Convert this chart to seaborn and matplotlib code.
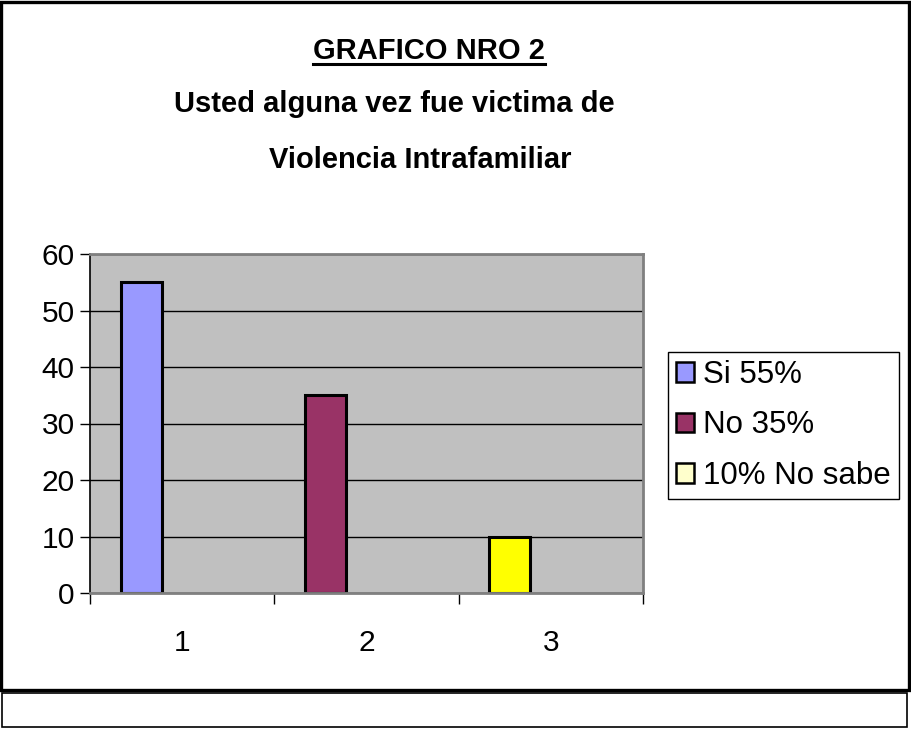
import pandas as pd
import matplotlib.pyplot as plt
import seaborn as sns
from matplotlib.patches import Patch, Rectangle
from matplotlib.lines import Line2D

# datos del grafico
categorias = ["1", "2", "3"]
valores = [55, 35, 10]
etiquetas = ["Si 55%", "No 35%", "10% No sabe"]
colores_barras = ["#9999FF", "#993366", "#FFFF00"]
colores_leyenda = ["#9999FF", "#993366", "#FFFFCC"]
# Excel reserva 3 huecos por categoria; cada barra queda en el primero
series = ["serie1", "serie2", "serie3"]

plt.rcParams["font.family"] = ["Liberation Sans", "DejaVu Sans"]

df = pd.DataFrame({"categoria": categorias, "valor": valores, "serie": series[0]})

W, H = 912, 729
fig = plt.figure(figsize=(W / 100, H / 100), dpi=100)
ax = fig.add_axes([90 / W, 1 - 593 / H, (643 - 90) / W, (593 - 254) / H])

sns.barplot(data=df, x="categoria", y="valor", hue="serie", hue_order=series,
            width=3 / 4.5, dodge=True, legend=False, saturation=1,
            edgecolor="black", linewidth=2.2, ax=ax)
for barra, color in zip(ax.patches, colores_barras):
    barra.set_facecolor(color)

ax.set_facecolor("#C0C0C0")
ax.set_xlim(-0.5, len(categorias) - 0.5)
ax.set_ylim(0, 60)
ax.set_yticks(range(0, 61, 10))
ax.yaxis.grid(True, color="black", linewidth=1)
ax.set_axisbelow(True)
ax.set_xlabel("")
ax.set_ylabel("")

# marcas en los limites de categoria, etiquetas en el centro
ax.set_xticks([i - 0.5 for i in range(len(categorias) + 1)])
ax.set_xticklabels([])
ax.set_xticks(range(len(categorias)), minor=True)
ax.set_xticklabels(categorias, minor=True)
ax.tick_params(axis="x", which="major", direction="out", length=8, width=1, color="black")
ax.tick_params(axis="x", which="minor", length=0, pad=26, labelsize=21.5)
ax.tick_params(axis="y", direction="out", length=7, width=1, color="black", pad=4, labelsize=21.5)

for lado in ["top", "right", "bottom"]:
    ax.spines[lado].set_color("#808080")
    ax.spines[lado].set_linewidth(2)
ax.spines["left"].set_color("black")
ax.spines["left"].set_linewidth(1.2)

# leyenda
handles = [Patch(facecolor=c, edgecolor="black", linewidth=1.8) for c in colores_leyenda]
fig.legend(handles, etiquetas, loc="upper left", bbox_to_anchor=(668 / W, 1 - 352 / H),
           bbox_transform=fig.transFigure, fontsize=22.5, frameon=True, fancybox=False,
           edgecolor="black", framealpha=1, borderaxespad=0, borderpad=0.25,
           handlelength=0.58, handleheight=0.58, handletextpad=0.3, labelspacing=0.66)

# titulos
titulo = fig.text(429 / W, 1 - 51 / H, "GRAFICO NRO 2", ha="center", va="center",
                  fontsize=21, fontweight="bold")
fig.text(394 / W, 1 - 104 / H, "Usted alguna vez fue victima de", ha="center", va="center",
         fontsize=21, fontweight="bold")
fig.text(420 / W, 1 - 160 / H, "Violencia Intrafamiliar", ha="center", va="center",
         fontsize=21, fontweight="bold")

# subrayado del titulo
fig.canvas.draw()
bb = titulo.get_window_extent().transformed(fig.transFigure.inverted())
fig.add_artist(Line2D([bb.x0, bb.x1], [bb.y0 + 1 / H, bb.y0 + 1 / H],
                      transform=fig.transFigure, color="black", linewidth=2.2))

# marcos exteriores
fig.add_artist(Rectangle((1.5 / W, 1 - 690 / H), 908 / W, 688.5 / H, transform=fig.transFigure,
                         fill=False, edgecolor="black", linewidth=2.4))
fig.add_artist(Rectangle((2 / W, 1 - 727 / H), 905 / W, 34 / H, transform=fig.transFigure,
                         fill=False, edgecolor="black", linewidth=1.2))

fig.savefig("out.png", dpi=100)
